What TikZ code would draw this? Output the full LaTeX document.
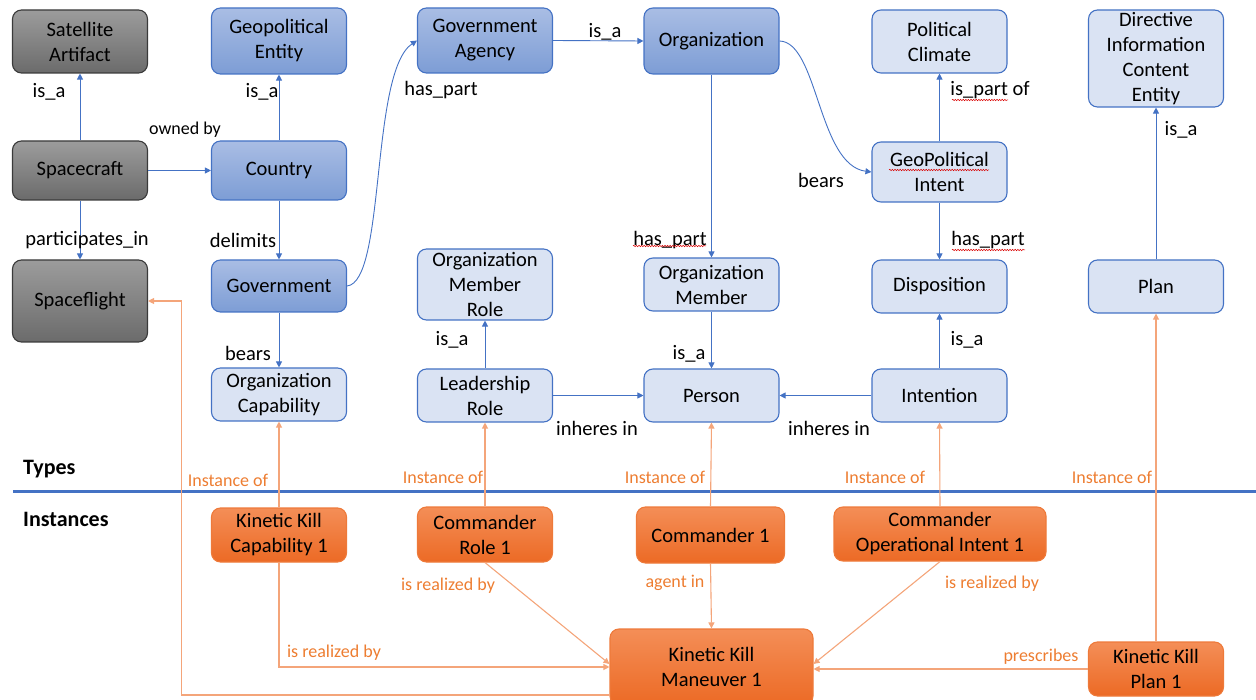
\documentclass[tikz,border=0pt]{standalone}
\usepackage{fontspec}
\setmainfont{Carlito}
\usetikzlibrary{arrows.meta,calc,decorations.pathmorphing}
\definecolor{greyA}{HTML}{9C9C9C}
\definecolor{greyB}{HTML}{6B6B6B}
\definecolor{greyline}{HTML}{3A3A3A}
\definecolor{dblueA}{HTML}{A9BDE4}
\definecolor{dblueB}{HTML}{7D9DD5}
\definecolor{blueline}{HTML}{4472C4}
\definecolor{lblue}{HTML}{DAE3F3}
\definecolor{orA}{HTML}{F48E57}
\definecolor{orB}{HTML}{EC6A25}
\definecolor{orline}{HTML}{EE7A3A}
\definecolor{oedge}{HTML}{F4A57A}
\definecolor{otext}{HTML}{ED7D31}
\newcommand\myNodeFont{\fontsize{20.5}{25}\selectfont}
\newcommand\myLabFont{\fontsize{20.5}{25}\selectfont}
\newcommand\mySmallFont{\fontsize{18}{22}\selectfont}
\newcommand\myHeadFont{\fontsize{22}{26}\selectfont\bfseries}
\tikzset{
  box/.style={rounded corners=9pt, line width=1.1pt, minimum width=135pt, inner sep=0pt, align=center, font=\myNodeFont},
  greybox/.style={box, draw=greyline, top color=greyA, bottom color=greyB},
  dbluebox/.style={box, draw=blueline, top color=dblueA, bottom color=dblueB},
  lbluebox/.style={box, draw=blueline, fill=lblue},
  orbox/.style={box, draw=orline, top color=orA, bottom color=orB},
  barrow/.style={draw=blueline, line width=0.9pt, -{Triangle[length=6pt,width=6pt]}},
  oarrow/.style={draw=oedge, line width=1.1pt, -{Triangle[length=6pt,width=6pt]}},
  lab/.style={font=\myLabFont, inner sep=0pt},
  smalllab/.style={font=\mySmallFont, inner sep=0pt},
  olab/.style={font=\mySmallFont, text=otext, inner sep=0pt},
  head/.style={font=\myHeadFont, inner sep=0pt},
  squiggle/.style={draw=red!85!black, line width=0.5pt, decorate, decoration={snake, amplitude=0.7pt, segment length=2.6pt}}
}
\begin{document}
\begin{tikzpicture}[x=1pt,y=-1pt]
\useasboundingbox (0,0) rectangle (1256,700);

% ---- type nodes ----
\node[greybox, minimum height=63pt] (sat) at (80,41.5) {Satellite\\Artifact};
\node[greybox, minimum height=59pt] (craft) at (80,170.5) {Spacecraft};
\node[greybox, minimum height=82pt] (flight) at (80,301) {Spaceflight};

\node[dbluebox, minimum height=66pt] (geo) at (279,41) {Geopolitical\\Entity};
\node[dbluebox, minimum height=59pt] (country) at (279,170.5) {Country};
\node[dbluebox, minimum height=52pt] (gov) at (279,286) {Government};
\node[lbluebox, minimum height=53pt] (cap) at (279,394.5) {Organization\\Capability};

\node[dbluebox, minimum height=65pt] (agency) at (485,40.5) {Government\\Agency};
\node[lbluebox, minimum height=71pt] (omr) at (485,284.5) {Organization\\Member\\Role};
\node[lbluebox, minimum height=53pt] (lead) at (485,395.5) {Leadership\\Role};

\node[dbluebox, minimum height=66pt] (org) at (711.5,41) {Organization};
\node[lbluebox, minimum height=53pt] (member) at (711.5,284.5) {Organization\\Member};
\node[lbluebox, minimum height=53pt] (person) at (711.5,395.5) {Person};

\node[lbluebox, minimum height=63pt] (climate) at (939.5,41.5) {Political\\Climate};
\node[lbluebox, minimum height=60pt] (intent) at (939.5,172) {GeoPolitical\\Intent};
\node[lbluebox, minimum height=53pt] (disp) at (939.5,286.5) {Disposition};
\node[lbluebox, minimum height=53pt] (intention) at (939.5,395.5) {Intention};

\node[lbluebox, minimum height=97pt] (dice) at (1156,58.5) {Directive\\Information\\Content\\Entity};
\node[lbluebox, minimum height=53pt] (plan) at (1156,286.5) {Plan};

% ---- instance nodes ----
\node[orbox, minimum height=54pt] (kkc) at (279,535) {Kinetic Kill\\Capability 1};
\node[orbox, minimum height=55pt] (cr) at (485,534.5) {Commander\\Role 1};
\node[orbox, minimum height=56pt, minimum width=148pt] (c1) at (710.5,535) {Commander 1};
\node[orbox, minimum height=54pt, minimum width=212pt] (coi) at (940,534) {Commander\\Operational Intent 1};
\node[orbox, minimum height=76pt, minimum width=203pt] (man) at (711.5,667) {Kinetic Kill\\Maneuver 1};
\node[orbox, minimum height=54pt] (kkp) at (1156,669) {Kinetic Kill\\Plan 1};

% ---- separator ----
\node[head, anchor=west] (types) at (23,469) {Types};
\node[head, anchor=west] (instances) at (23,519) {Instances};
\draw[blueline, line width=3pt] (13,491) -- (1256,491);

% ---- blue connectors ----
\draw[barrow] (craft.north) -- (sat.south);
\draw[barrow] (craft.east) -- (country.west);
\draw[barrow] (craft.south) -- (flight.north);
\draw[barrow] (country.north) -- (geo.south);
\draw[barrow] (country.south) -- (gov.north);
\draw[barrow] (gov.east) .. controls (386,282) and (370,72) .. (agency.west);
\draw[barrow] (gov.south) -- (cap.north);
\draw[barrow] (agency.east) -- (org.west);
\draw[barrow] (org.south) -- (member.north);
\draw[barrow] (org.east) .. controls (818,42) and (818,165) .. (intent.west);
\draw[barrow] (intent.north) -- (climate.south);
\draw[barrow] (intent.south) -- (disp.north);
\draw[barrow] (plan.north) -- (dice.south);
\draw[barrow] (lead.north) -- (omr.south);
\draw[barrow] (lead.east) -- (person.west);
\draw[barrow] (member.south) -- (person.north);
\draw[barrow] (intention.west) -- (person.east);
\draw[barrow] (intention.north) -- (disp.south);

% ---- orange connectors ----
\draw[oarrow] (kkc.north) -- (cap.south);
\draw[oarrow] (cr.north) -- (lead.south);
\draw[oarrow] (c1.north) -- (person.south);
\draw[oarrow] (coi.north) -- (intention.south);
\draw[oarrow] (kkp.north) -- (plan.south);
\draw[oarrow] (kkc.south) |- (man.west);
\draw[oarrow] (cr.south) -- ([yshift=3pt]man.west);
\draw[oarrow] (c1.south) -- (man.north);
\draw[oarrow] (coi.south) -- ([yshift=3pt]man.east);
\draw[oarrow] (kkp.west) -- (kkp.west -| man.east);
\draw[oarrow] ([yshift=-28pt]man.west) -| ([xshift=33pt]flight.east) -- (flight.east);

% ---- blue labels ----
\node[lab] (l1) at (49,92) {is\_a};
\node[lab] (l2) at (262,92) {is\_a};
\node[smalllab] (l3) at (185,130) {owned by};
\node[lab] (l4) at (87,240) {participates\_in};
\node[lab] (l5) at (243,240) {delimits};
\node[lab] (l6) at (441,90) {has\_part};
\node[lab] (l7) at (605,32) {is\_a};
\node[lab] (l8) at (670,240) {has\_part};
\node[lab] (l9) at (821,180) {bears};
\node[lab] (l10) at (990,90) {is\_part of};
\node[lab] (l11) at (988,240) {has\_part};
\node[lab] (l12) at (1181,130) {is\_a};
\node[lab] (l13) at (248,353) {bears};
\node[lab] (l14) at (452,340) {is\_a};
\node[lab] (l15) at (689,354) {is\_a};
\node[lab] (l16) at (967,340) {is\_a};
\node[lab] (l17) at (597,428) {inheres in};
\node[lab] (l18) at (829,428) {inheres in};

% ---- orange labels ----
\node[olab] (o1) at (228,480) {Instance of};
\node[olab] (o2) at (443,477) {Instance of};
\node[olab] (o3) at (665,477) {Instance of};
\node[olab] (o4) at (885,477) {Instance of};
\node[olab] (o5) at (1112,477) {Instance of};
\node[olab] (o6) at (334,653) {is realized by};
\node[olab] (o7) at (448,586) {is realized by};
\node[olab] (o8) at (675,583) {agent in};
\node[olab] (o9) at (992,584) {is realized by};
\node[olab] (o10) at (1041,657) {prescribes};

% ---- spell-check squiggles ----
\draw[squiggle] (889,170) -- (989,170);
\draw[squiggle] (633,246) -- (706,246);
\draw[squiggle] (952,100) -- (1008,100);
\draw[squiggle] (952,250) -- (1025,250);
\end{tikzpicture}
\end{document}
